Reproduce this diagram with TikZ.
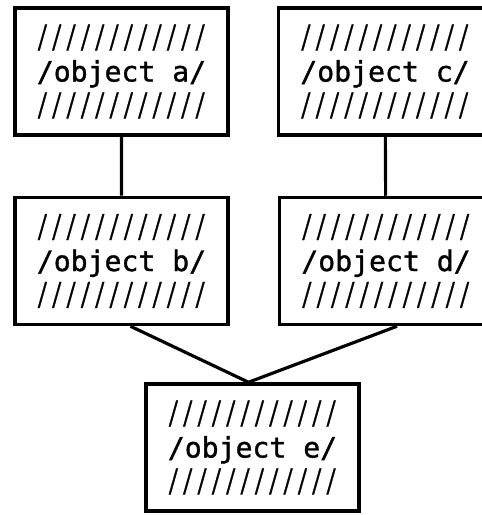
\documentclass[tikz,border=0pt]{standalone}
\usepackage{fontspec}
\usepackage{tikz}
\usetikzlibrary{positioning}
\newfontfamily\objfont[FakeBold=1.2]{DejaVu Sans Mono}
\newcommand{\thinslash}{\scalebox{0.68}[1.12]{/}}
\newcommand{\slashrow}{\hbox to 96.3pt{\thinslash\hss\thinslash\hss\thinslash\hss\thinslash\hss\thinslash\hss\thinslash\hss
  \thinslash\hss\thinslash\hss\thinslash\hss\thinslash\hss\thinslash\hss\thinslash}}

\begin{document}
\begin{tikzpicture}[
  obj/.style={rectangle, draw, line width=2pt, fill=white, minimum width=4.26cm, minimum height=2.54cm,
    inner sep=0pt, align=center, font={\objfont\fontsize{16}{19.3}\selectfont}},
  link/.style={line width=1.8pt}]
  \useasboundingbox (0,0) rectangle (9.64,-10.30);
  % upper row
  \node[obj] (a) at (2.43,-1.43) {\slashrow\\/object a/\\\slashrow};
  \node[obj] (c) at (7.70,-1.43) {\slashrow\\/object c/\\\slashrow};
  % middle row
  \node[obj] (b) at (2.43,-5.22) {\slashrow\\/object b/\\\slashrow};
  \node[obj] (d) at (7.72,-5.22) {\slashrow\\/object d/\\\slashrow};
  % bottom
  \node[obj] (e) at (5.05,-8.95) {\slashrow\\/object e/\\\slashrow};
  \draw[link] (a) -- (b) (c) -- (d);
  \draw[link] ([xshift=0.18cm]b.south) -- ([xshift=-0.08cm]e.north) -- ([xshift=0.22cm]d.south);
\end{tikzpicture}
\end{document}
